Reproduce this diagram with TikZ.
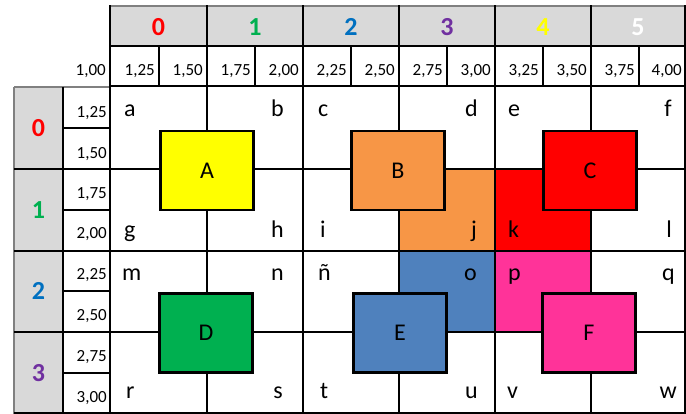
\documentclass[tikz,border=0pt]{standalone}
\usepackage{fontspec}
\setmainfont{Carlito}
\definecolor{hgrey}{HTML}{D9D9D9}
\definecolor{cyel}{HTML}{FFFF00}
\definecolor{corg}{HTML}{F79646}
\definecolor{cred}{HTML}{FF0000}
\definecolor{cgrn}{HTML}{00B050}
\definecolor{cblu}{HTML}{4F81BD}
\definecolor{cpnk}{HTML}{FF3399}
\definecolor{dblue}{HTML}{0070C0}
\definecolor{dpurp}{HTML}{7030A0}
\definecolor{bordgrey}{HTML}{808080}
\begin{document}
\begin{tikzpicture}[x=1pt,y=-1pt,
  gridline/.style={line width=2.8pt, line cap=rect},
  subline/.style={line width=1.8pt},
  greyline/.style={line width=1.5pt, draw=bordgrey},
  sq/.style={draw, line width=2.8pt, minimum width=93pt, minimum height=79pt, inner sep=0pt, font=\fontsize{24}{24}\selectfont},
  lt/.style={font=\fontsize{24}{24}\selectfont, inner sep=0pt},
  ltl/.style={lt, anchor=base west},
  ltr/.style={lt, anchor=base east},
  num/.style={font=\fontsize{17}{17}\selectfont, inner sep=0pt, anchor=base east},
  hdr/.style={font=\fontsize{26}{26}\selectfont\bfseries, inner sep=0pt}
]
\fill[white] (0,0) rectangle (686,414);
\useasboundingbox (0,0) rectangle (686,414);

% grey header areas
\fill[hgrey] (110,6) rectangle (686,46);
\fill[hgrey] (14,87) rectangle (63,414);

% coloured cells
\fill[corg] (399,169) rectangle (495,251);
\fill[cred] (495,169) rectangle (591,251);
\fill[cblu] (399,251) rectangle (495,332);
\fill[cpnk] (495,251) rectangle (591,332);

% thin grey borders
\draw[greyline] (110,6) -- (686,6);
\draw[greyline] (14,87) -- (110,87);
\draw[greyline] (14,87) -- (14,414);

% sub-header half lines
\foreach \x in {159,255,351,447,543,639} \draw[subline] (\x,46) -- (\x,86);
% left label column lines
\draw[subline] (63,87) -- (63,414);
\foreach \y in {128,210,291,373} \draw[subline] (63,\y) -- (110,\y);
\foreach \y in {169,251,332} \draw[subline] (14,\y) -- (110,\y);
\draw[subline] (14,413) -- (110,413);

% main grid
\draw[gridline] (110,46) -- (685,46);
\draw[gridline] (110,86) -- (685,86);
\foreach \y in {169,251,332} \draw[gridline] (110,\y) -- (685,\y);
\draw[gridline] (110,413) -- (685,413);
\foreach \x in {110,207,303,399,495,591,685} \draw[gridline] (\x,6) -- (\x,413);

% top header digits
\node[hdr, text=cred]  (h0) at (158.5,27) {0};
\node[hdr, text=cgrn]  (h1) at (255,27) {1};
\node[hdr, text=dblue] (h2) at (351,27) {2};
\node[hdr, text=dpurp] (h3) at (447,27) {3};
\node[hdr, text=cyel]  (h4) at (543,27) {4};
\node[hdr, text=white] (h5) at (638,27) {5};

% left header digits
\node[hdr, text=cred]  (v0) at (38.5,128) {0};
\node[hdr, text=cgrn]  (v1) at (38.5,210) {1};
\node[hdr, text=dblue] (v2) at (38.5,291) {2};
\node[hdr, text=dpurp] (v3) at (38.5,373) {3};

% sub-header numbers
\node[num] (s0) at (106,76) {1,00};
\node[num] (s1) at (155,76) {1,25};
\node[num] (s2) at (203,76) {1,50};
\node[num] (s3) at (251,76) {1,75};
\node[num] (s4) at (299,76) {2,00};
\node[num] (s5) at (347,76) {2,25};
\node[num] (s6) at (395,76) {2,50};
\node[num] (s7) at (443,76) {2,75};
\node[num] (s8) at (491,76) {3,00};
\node[num] (s9) at (539,76) {3,25};
\node[num] (s10) at (587,76) {3,50};
\node[num] (s11) at (635,76) {3,75};
\node[num] (s12) at (682,76) {4,00};

% row numbers
\node[num] (r1) at (107,118) {1,25};
\node[num] (r2) at (107,159) {1,50};
\node[num] (r3) at (107,199) {1,75};
\node[num] (r4) at (107,239) {2,00};
\node[num] (r5) at (107,280) {2,25};
\node[num] (r6) at (107,321) {2,50};
\node[num] (r7) at (107,361) {2,75};
\node[num] (r8) at (107,402) {3,00};

% squares
\node[sq, fill=cyel] (A) at (207,170.5) {A};
\node[sq, fill=corg] (B) at (398,170.5) {B};
\node[sq, fill=cred] (C) at (590,170.5) {C};
\node[sq, fill=cgrn] (D) at (206,333) {D};
\node[sq, fill=cblu] (E) at (400,333) {E};
\node[sq, fill=cpnk] (F) at (589,333) {F};

% corner letters
\node[ltl] (la) at (124,117) {a};
\node[ltr] (lb) at (284,117) {b};
\node[ltl] (lc) at (318,117) {c};
\node[ltr] (ld) at (478,117) {d};
\node[ltl] (le) at (508,117) {e};
\node[ltr] (lf) at (672,117) {f};

\node[ltl] (lg) at (124,238) {g};
\node[ltr] (lh) at (284,238) {h};
\node[ltl] (li) at (320,238) {i};
\node[ltr] (lj) at (477,238) {j};
\node[ltl] (lk) at (508,238) {k};
\node[ltr] (ll) at (672,238) {l};

\node[ltl] (lm) at (122,281) {m};
\node[ltr] (ln) at (284,281) {n};
\node[ltl] (lnn) at (318,281) {ñ};
\node[ltr] (lo) at (477,281) {o};
\node[ltl] (lp) at (508,281) {p};
\node[ltr] (lq) at (675,281) {q};

\node[ltl] (lr) at (126,399) {r};
\node[ltr] (ls) at (283,399) {s};
\node[ltl] (lt) at (320,399) {t};
\node[ltr] (lu) at (478,399) {u};
\node[ltl] (lv) at (507,399) {v};
\node[ltr] (lw) at (677,399) {w};
\end{tikzpicture}
\end{document}
